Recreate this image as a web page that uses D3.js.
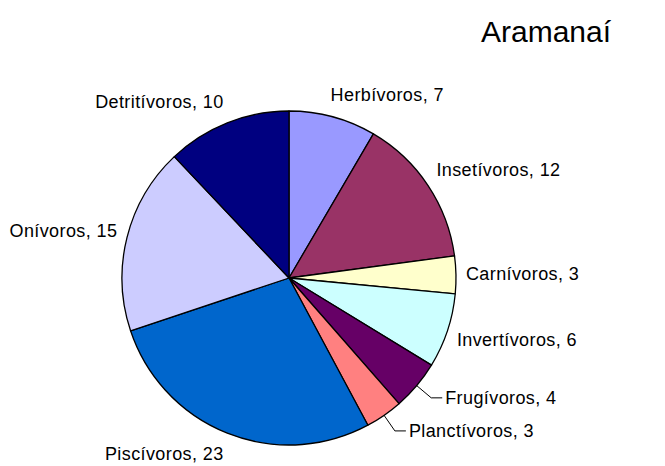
<!DOCTYPE html>
<html>
<head>
<meta charset="utf-8">
<script src="https://cdn.jsdelivr.net/npm/d3@7"></script>
<style>
  body { margin: 0; background: #fff; }
  svg { display: block; font-family: "Liberation Sans", Arial, sans-serif; }
</style>
</head>
<body>
<svg id="chart" width="665" height="466"></svg>
<script>
const title = "Aramanaí";
const categories = ["Herbívoros", "Insetívoros", "Carnívoros", "Invertívoros", "Frugívoros",
  "Planctívoros", "Piscívoros", "Onívoros", "Detritívoros"];
const values = [7, 12, 3, 6, 4, 3, 23, 15, 10];
const colors = ["#9999FF", "#993366", "#FFFFCC", "#CCFFFF", "#660066",
  "#FF8080", "#0066CC", "#CCCCFF", "#000080"];
// labels pulled out with a leader line (Excel moved these two)
const leadered = ["Frugívoros", "Planctívoros"];

const svg = d3.select("#chart");
const cx = 289, cy = 278, radius = 167;

svg.append("text")
  .attr("x", 481).attr("y", 42)
  .attr("font-size", 30)
  .text(title);

const data = categories.map((name, i) => ({ name, value: values[i], color: colors[i] }));

const pie = d3.pie().sort(null).value((d) => d.value);
const arcs = pie(data);
const arc = d3.arc().innerRadius(0).outerRadius(radius);

const g = svg.append("g").attr("transform", `translate(${cx},${cy})`);

g.selectAll("path.slice")
  .data(arcs)
  .join("path")
  .attr("class", "slice")
  .attr("d", arc)
  .attr("fill", (d) => d.data.color)
  .attr("stroke", "#000")
  .attr("stroke-width", 1.3)
  .attr("stroke-linejoin", "round");

const clamp = (v) => Math.max(-1, Math.min(1, v));

arcs.forEach((a) => {
  const mid = (a.startAngle + a.endAngle) / 2;
  const s = Math.sin(mid), c = Math.cos(mid);
  const label = `${a.data.name}, ${a.data.value}`;
  const t = g.append("text")
    .attr("font-size", 18)
    .attr("letter-spacing", 0.4)
    .attr("fill", "#000")
    .text(label);

  if (leadered.includes(a.data.name)) {
    const r1 = radius + 19;
    const ex = r1 * s, ey = -r1 * c;
    g.append("polyline")
      .attr("points", [[radius * s, -radius * c], [ex, ey], [ex + 11, ey]].map((p) => p.join(",")).join(" "))
      .attr("fill", "none")
      .attr("stroke", "#000")
      .attr("stroke-width", 1);
    t.attr("x", ex + 14).attr("y", ey + 6);
    return;
  }

  const R = radius + 10;
  const px = R * s, py = -R * c;
  const w = t.node().getComputedTextLength();
  const sx = clamp(s * 3.5), sy = clamp(-c * 1.5);
  const bx = px + sx * w / 2;
  const by = py + sy * 12;
  t.attr("text-anchor", "middle").attr("x", bx).attr("y", by + 6);
});
</script>
</body>
</html>
